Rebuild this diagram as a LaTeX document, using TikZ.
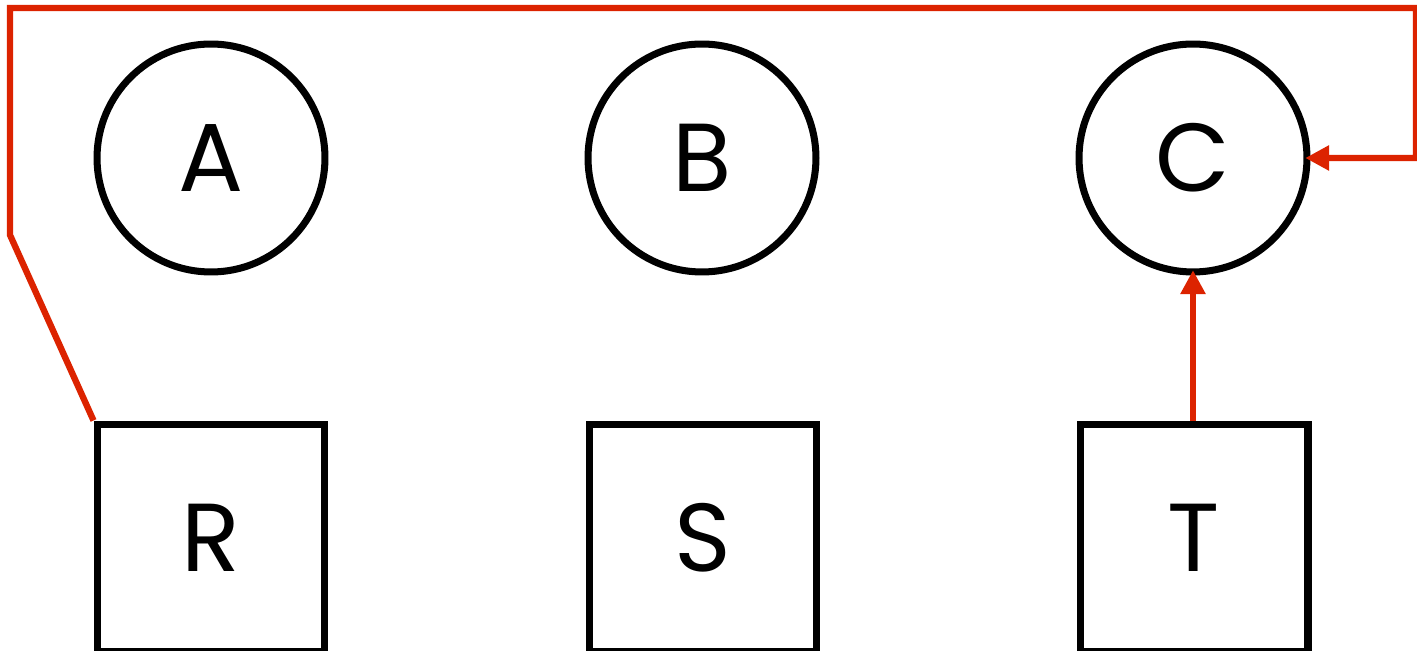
\documentclass[tikz,border=0pt]{standalone}
\usepackage{fontspec}
\setmainfont{Poppins}
\definecolor{linkRed}{HTML}{DC2300}
\usetikzlibrary{arrows.meta}

\begin{document}
\begin{tikzpicture}[x=0.02cm, y=-0.02cm,
    state/.style={circle, draw=black, line width=4pt, minimum size=4.56cm,
      inner sep=0pt, font=\fontsize{55}{60}\selectfont},
    block/.style={rectangle, draw=black, line width=4pt, minimum size=4.56cm,
      inner sep=0pt, font=\fontsize{55}{60}\selectfont},
    link/.style={linkRed, line width=3.6pt, line join=miter, shorten >=-3pt,
      -{Triangle[length=0.48cm, width=0.48cm]}}]
        \useasboundingbox (0,0) rectangle (1417,651);
        \clip (0,0) rectangle (1417,651);
        % Circles
        \node[state] (a) at (211,158) {A};
        \node[state] (b) at (702,158) {B};
        \node[state] (c) at (1193,158) {C};
        % Squares
        \node[block] (r) at (211,538) {R};
        \node[block] (s) at (703,538) {S};
        \node[block] (t) at (1194,538) {T};
        % Connectors
        \coordinate (bend) at (10,235);
        \coordinate (topleft) at (10,8);
        \coordinate (topright) at (1416,8);
        \coordinate (sideright) at (1416,158);
        \draw[link] (r.north west) -- (bend) -- (topleft) -- (topright)
          -- (sideright) -- (c.east);
        \draw[link] (t.north -| c.south) -- (c.south);
      \end{tikzpicture}
\end{document}
